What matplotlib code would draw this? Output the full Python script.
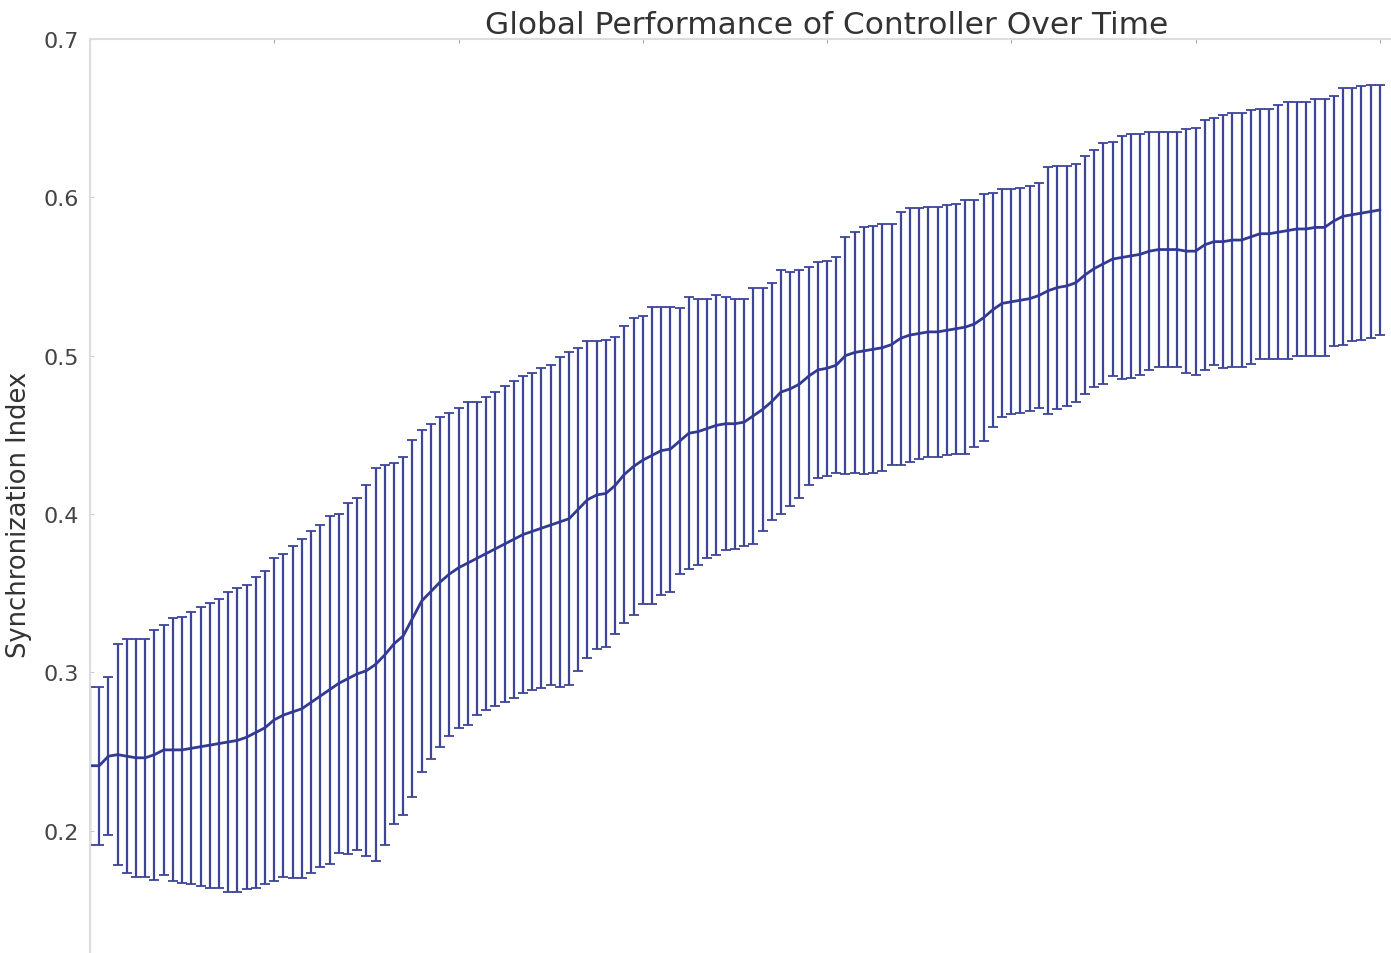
import matplotlib
matplotlib.use("Agg")
import matplotlib.pyplot as plt
import numpy as np

# time steps shown in the (cropped) picture
steps = list(range(141))

# mean synchronization index per step
sync_mean = [
    0.241, 0.241, 0.247, 0.248, 0.247, 0.246, 0.246, 0.248, 0.251, 0.251,
    0.251, 0.252, 0.253, 0.254, 0.255, 0.256, 0.257, 0.259, 0.262, 0.265,
    0.270, 0.273, 0.275, 0.277, 0.281, 0.285, 0.289, 0.293, 0.296, 0.299,
    0.301, 0.305, 0.311, 0.318, 0.323, 0.334, 0.345, 0.351, 0.357, 0.362,
    0.366, 0.369, 0.372, 0.375, 0.378, 0.381, 0.384, 0.387, 0.389, 0.391,
    0.393, 0.395, 0.397, 0.403, 0.409, 0.412, 0.413, 0.418, 0.425, 0.430,
    0.434, 0.437, 0.440, 0.441, 0.446, 0.451, 0.452, 0.454, 0.456, 0.457,
    0.457, 0.458, 0.462, 0.466, 0.471, 0.477, 0.479, 0.482, 0.487, 0.491,
    0.492, 0.494, 0.500, 0.502, 0.503, 0.504, 0.505, 0.507, 0.511, 0.513,
    0.514, 0.515, 0.515, 0.516, 0.517, 0.518, 0.520, 0.524, 0.529, 0.533,
    0.534, 0.535, 0.536, 0.538, 0.541, 0.543, 0.544, 0.546, 0.551, 0.555,
    0.558, 0.561, 0.562, 0.563, 0.564, 0.566, 0.567, 0.567, 0.567, 0.566,
    0.566, 0.570, 0.572, 0.572, 0.573, 0.573, 0.575, 0.577, 0.577, 0.578,
    0.579, 0.580, 0.580, 0.581, 0.581, 0.585, 0.588, 0.589, 0.590, 0.591,
    0.592,
]

# half-width of the error bar per step
sync_err = [
    0.050, 0.050, 0.050, 0.070, 0.074, 0.075, 0.075, 0.079, 0.079, 0.083,
    0.084, 0.086, 0.088, 0.090, 0.091, 0.095, 0.096, 0.096, 0.098, 0.099,
    0.102, 0.102, 0.105, 0.107, 0.108, 0.108, 0.110, 0.107, 0.111, 0.111,
    0.117, 0.124, 0.120, 0.114, 0.113, 0.113, 0.108, 0.106, 0.104, 0.102,
    0.101, 0.102, 0.099, 0.099, 0.099, 0.100, 0.100, 0.100, 0.100, 0.101,
    0.101, 0.104, 0.105, 0.102, 0.100, 0.097, 0.097, 0.094, 0.094, 0.094,
    0.091, 0.094, 0.091, 0.090, 0.084, 0.086, 0.084, 0.082, 0.082, 0.080,
    0.079, 0.078, 0.081, 0.077, 0.075, 0.077, 0.074, 0.072, 0.069, 0.068,
    0.068, 0.068, 0.075, 0.076, 0.078, 0.078, 0.078, 0.076, 0.080, 0.080,
    0.079, 0.079, 0.079, 0.079, 0.079, 0.080, 0.078, 0.078, 0.074, 0.072,
    0.071, 0.071, 0.071, 0.071, 0.078, 0.077, 0.076, 0.075, 0.075, 0.075,
    0.076, 0.074, 0.077, 0.077, 0.076, 0.075, 0.074, 0.074, 0.074, 0.077,
    0.078, 0.079, 0.078, 0.080, 0.080, 0.080, 0.080, 0.079, 0.079, 0.080,
    0.081, 0.080, 0.080, 0.081, 0.081, 0.079, 0.081, 0.080, 0.080, 0.080,
    0.079,
]

y_ticks = [0.2, 0.3, 0.4, 0.5, 0.6, 0.7]
x_ticks = [0, 20, 40, 60, 80, 100, 120, 140, 160]

fig = plt.figure(figsize=(13.91, 9.54), dpi=100)
# the reference is a crop: the axes run past the right and bottom edges
ax = fig.add_axes([0.0647, -0.0377, 1.0597, 0.9958])

blue = '#323a94'
ax.errorbar(steps, sync_mean, yerr=sync_err, color=blue, ecolor='#3d4598',
            elinewidth=1.6, capsize=3.3, capthick=1.3, linewidth=2.0)

ax.set_xlim(0, 160)
ax.set_ylim(0.1, 0.7)
ax.set_yticks(y_ticks)
ax.set_yticklabels([f'{t:.1f}' for t in y_ticks])
ax.set_xticks(x_ticks)

for s in ax.spines.values():
    s.set_color('#dddddd')
    s.set_linewidth(1.5)

ax.tick_params(axis='y', direction='in', length=3, color='#cccccc',
               labelsize=16, labelcolor='#444444', pad=8, right=False)
ax.tick_params(axis='x', direction='in', length=3, color='#aaaaaa',
               top=True, bottom=False, labelbottom=False)

ax.set_title('Global Performance of Controller Over Time', fontsize=22.5,
             color='#333333', pad=3)
ax.set_ylabel('Synchronization Index', fontsize=18.5, color='#333333', labelpad=8)

fig.savefig('out.png', dpi=100)
